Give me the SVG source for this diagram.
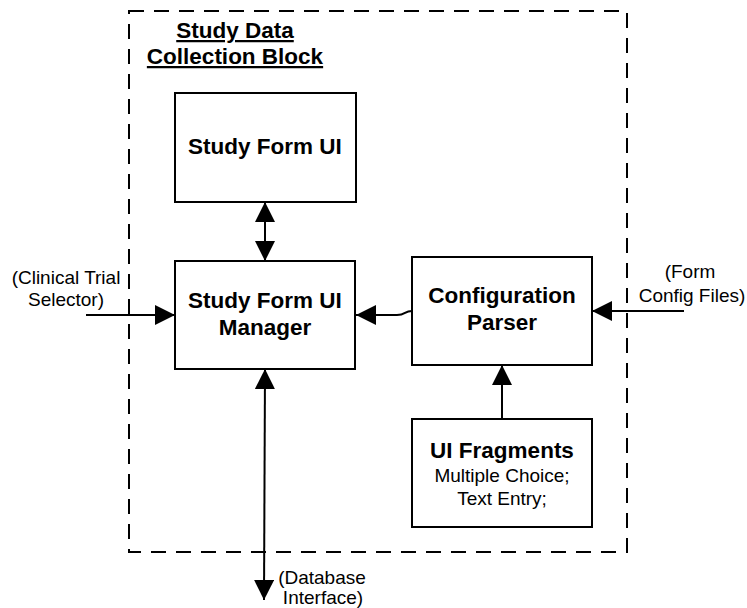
<svg xmlns="http://www.w3.org/2000/svg" width="747" height="608" viewBox="0 0 747 608">
<style>
.box{fill:#fff;stroke:#000;stroke-width:2}
.b{font-family:"Liberation Sans",Arial,sans-serif;font-weight:bold;font-size:22.5px;text-anchor:middle;fill:#000}
.r{font-family:"Liberation Sans",Arial,sans-serif;font-size:19px;text-anchor:middle;fill:#000}
.ln{fill:none;stroke:#000;stroke-width:2}
</style>
<defs>
<marker id="ah" markerUnits="userSpaceOnUse" markerWidth="20" markerHeight="20" viewBox="0 0 20 20" refX="20" refY="10" orient="auto-start-reverse">
<path d="M0,0 L20,10 L0,20 z" fill="#000"/>
</marker>
</defs>
<g id="block">
<rect x="129" y="11" width="498" height="541" fill="none" stroke="#000" stroke-width="2" stroke-dasharray="15,10"/>
<text class="b" x="235" y="38" text-decoration="underline">Study Data</text>
<text class="b" x="235" y="64" text-decoration="underline">Collection Block</text>
</g>
<g id="connectors">
<line class="ln" x1="265" y1="202" x2="265" y2="261" marker-start="url(#ah)" marker-end="url(#ah)"/>
<line class="ln" x1="265" y1="369" x2="264" y2="600" marker-start="url(#ah)" marker-end="url(#ah)"/>
<line class="ln" x1="86" y1="315" x2="175" y2="315" marker-end="url(#ah)"/>
<path class="ln" d="M412,311 C404,311 406,315 397,315 L356,315" marker-end="url(#ah)"/>
<line class="ln" x1="684" y1="311" x2="592" y2="311" marker-end="url(#ah)"/>
<line class="ln" x1="502" y1="419" x2="502" y2="365" marker-end="url(#ah)"/>
</g>
<g id="study-form-ui">
<rect class="box" x="175" y="93" width="181" height="109"/>
<text class="b" x="265" y="154">Study Form UI</text>
</g>
<g id="manager">
<rect class="box" x="175" y="261" width="180" height="108"/>
<text class="b" x="265" y="308">Study Form UI</text>
<text class="b" x="265" y="335">Manager</text>
</g>
<g id="config-parser">
<rect class="box" x="412" y="257" width="180" height="108"/>
<text class="b" x="502" y="303">Configuration</text>
<text class="b" x="502" y="330">Parser</text>
</g>
<g id="ui-fragments">
<rect class="box" x="412" y="419" width="180" height="108"/>
<text class="b" x="502" y="458">UI Fragments</text>
<text class="r" x="502" y="482">Multiple Choice;</text>
<text class="r" x="502" y="505">Text Entry;</text>
</g>
<g id="clinical-trial">
<text class="r" x="66" y="284">(Clinical Trial</text>
<text class="r" x="66" y="306">Selector)</text>
</g>
<g id="form-config">
<text class="r" x="690" y="278">(Form</text>
<text class="r" x="692" y="302">Config Files)</text>
</g>
<g id="database">
<text class="r" x="322" y="584">(Database</text>
<text class="r" x="323" y="604">Interface)</text>
</g>
</svg>
